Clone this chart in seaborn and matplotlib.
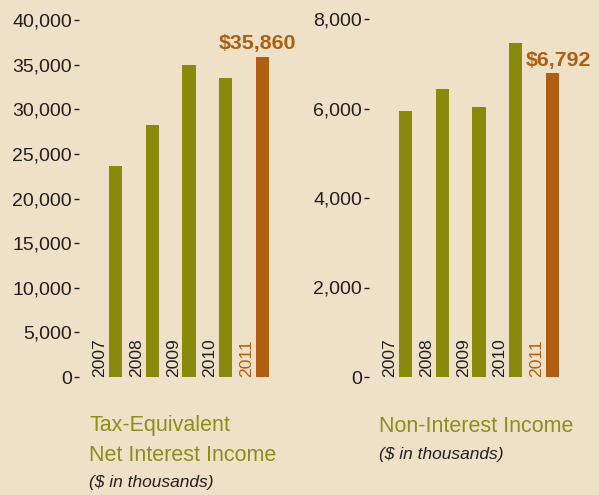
import numpy as np
import pandas as pd
import seaborn as sns
import matplotlib.pyplot as plt

# chart values
years = ["2007", "2008", "2009", "2010", "2011"]
net_interest = [23640, 28240, 34960, 33500, 35860]
non_interest = [5944, 6436, 6034, 7464, 6792]

left_ticks = [0, 5000, 10000, 15000, 20000, 25000, 30000, 35000, 40000]
right_ticks = [0, 2000, 4000, 6000, 8000]

BG = "#EFE1C8"
GREEN = "#898A0B"
ORANGE = "#B05F12"
TITLE_GREEN = "#8D8D1A"
DARK = "#231F20"

sns.set_style("white")
plt.rcParams["font.family"] = ["Liberation Sans", "DejaVu Sans"]

W, H = 599, 495
fig = plt.figure(figsize=(W / 100, H / 100), dpi=100)
fig.patch.set_facecolor(BG)


def px_axes(left, top, bottom, width):
    return fig.add_axes([left / W, 1 - bottom / H, width / W, (bottom - top) / H])


def draw_panel(ax, values, ticks, ymax, label_offset):
    df = pd.DataFrame({"year": years, "value": values})
    palette = [GREEN] * (len(years) - 1) + [ORANGE]
    sns.barplot(data=df, x="year", y="value", hue="year", palette=palette,
                width=0.354, saturation=1, linewidth=0, legend=False, ax=ax)
    ax.set_facecolor(BG)
    ax.set_xlim(-0.993, 5.02)
    ax.set_ylim(0, ymax)
    for s in ax.spines.values():
        s.set_visible(False)
    ax.set_xlabel("")
    ax.set_ylabel("")
    ax.set_xticks([])
    ax.set_yticks(ticks)
    ax.set_yticklabels([f"{t:,}" for t in ticks], fontsize=14, color=DARK)
    ax.tick_params(axis="y", left=True, length=3.6, width=1.0, color=DARK, pad=1.5)

    # year labels sit rotated beside each bar
    for i, yr in enumerate(years):
        ax.text(i - 0.43, 0, yr, rotation=90, ha="center", va="bottom",
                fontsize=12.6,
                color=ORANGE if i == len(years) - 1 else DARK)

    last = len(values) - 1
    ax.annotate(f"${values[last]:,}", (last, values[last]),
                xytext=label_offset, textcoords="offset points",
                ha="center", va="baseline", fontsize=15.4, fontweight="bold",
                color=ORANGE)


ax1 = px_axes(79, 20, 377, 221)
draw_panel(ax1, net_interest, left_ticks, 40000, (-3.6, 5.8))

ax2 = px_axes(369, 19, 377, 221)
draw_panel(ax2, non_interest, right_ticks, 8000, (4.3, 5.0))

# panel titles
fig.text(89 / W, 1 - 431 / H, "Tax-Equivalent", fontsize=15.5,
         color=TITLE_GREEN, va="baseline")
fig.text(89 / W, 1 - 461 / H, "Net Interest Income", fontsize=15.5,
         color=TITLE_GREEN, va="baseline")
fig.text(89 / W, 1 - 487 / H, "($ in thousands)", fontsize=12.5, style="italic",
         color=DARK, va="baseline")

fig.text(379 / W, 1 - 432 / H, "Non-Interest Income", fontsize=15.5,
         color=TITLE_GREEN, va="baseline")
fig.text(379 / W, 1 - 459 / H, "($ in thousands)", fontsize=12.5, style="italic",
         color=DARK, va="baseline")

fig.savefig("out.png", dpi=100, facecolor=BG)
